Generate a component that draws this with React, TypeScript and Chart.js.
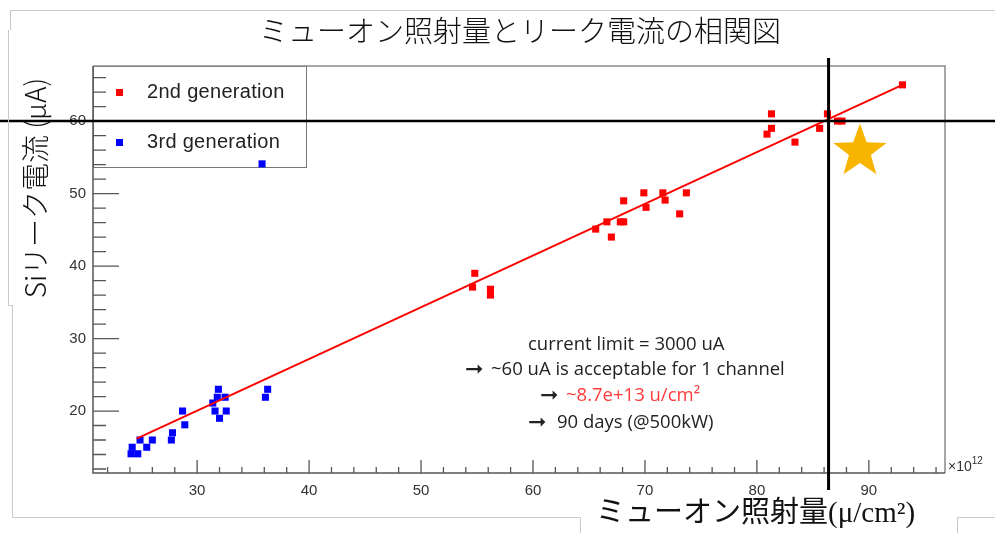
import React, { useEffect, useRef } from "react";
import { Chart, registerables } from "chart.js";

Chart.register(...registerables);

// ---------- data ----------
const X_TICKS = [30, 40, 50, 60, 70, 80, 90];
const Y_TICKS = [20, 30, 40, 50, 60];
const X_MINOR_STEP = 2;
const Y_MINOR_STEP = 2;
const X_RANGE = [20.7, 96.8];
const Y_RANGE = [11.45, 67.6];

const GEN2_X = [54.8, 54.6, 56.2, 56.2, 65.6, 66.6, 67.0, 67.8, 68.1, 68.1, 69.9, 70.1, 71.6, 71.8, 73.1, 73.7, 81.3, 81.3, 80.9, 83.4, 86.3, 85.6, 87.2, 87.6, 93.0];
const GEN2_Y = [39.0, 37.1, 36.8, 36.0, 45.1, 46.1, 44.0, 46.1, 46.1, 49.0, 50.1, 48.1, 50.1, 49.1, 47.2, 50.1, 61.0, 59.0, 58.2, 57.1, 61.0, 59.0, 60.0, 60.0, 65.0];

const GEN3_X = [35.8, 24.2, 24.1, 24.7, 24.9, 25.5, 26.0, 27.7, 27.8, 28.7, 28.9, 31.4, 31.6, 31.8, 31.9, 32.5, 32.6, 32.0, 36.1, 36.3];
const GEN3_Y = [54.1, 15.0, 14.1, 14.1, 16.0, 15.0, 16.0, 16.0, 17.0, 20.0, 18.1, 21.1, 20.0, 21.9, 23.0, 21.9, 20.0, 19.0, 21.9, 23.0];

const FIT_X = [24.6, 93.0];
const FIT_Y = [16.2, 65.0];

const LIMIT_CURRENT = 60;
const LIMIT_FLUENCE = 86.4;
const TARGET_POINT = [89.2, 55.8];

const SERIES_NAMES = ["2nd generation", "3rd generation"];
const TITLE = "ミューオン照射量とリーク電流の相関図";
const Y_TITLE = "Siリーク電流 (μA)";
const X_TITLE = "ミューオン照射量(μ/cm²)";
const NOTE_LINES = [
  "current limit = 3000 uA",
  "~60 uA is acceptable for 1 channel",
  "~8.7e+13 u/cm²",
  "90 days (@500kW)",
];
const ARROW = "➞";

const RED = "#ff0000";
const BLUE = "#0000ff";

function drawStar(ctx: CanvasRenderingContext2D, cx: number, cy: number, R: number, r: number) {
  ctx.beginPath();
  for (let i = 0; i < 10; i++) {
    const ang = -Math.PI / 2 + (i * Math.PI) / 5;
    const rad = i % 2 === 0 ? R : r;
    const px = cx + rad * Math.cos(ang);
    const py = cy + rad * Math.sin(ang);
    if (i === 0) ctx.moveTo(px, py);
    else ctx.lineTo(px, py);
  }
  ctx.closePath();
  ctx.fill();
}

const decorPlugin = {
  id: "decor",
  beforeDatasetsDraw(chart: any) {
    const ctx: CanvasRenderingContext2D = chart.ctx;
    const { left, right, top, bottom } = chart.chartArea;
    const xs = chart.scales.x;
    const ys = chart.scales.y;
    ctx.save();
    // legend box
    ctx.fillStyle = "#ffffff";
    ctx.fillRect(left, top, 213, 101);
    ctx.strokeStyle = "#777";
    ctx.lineWidth = 1;
    ctx.strokeRect(left + 0.5, top + 0.5, 213, 101);
    ctx.fillStyle = RED;
    ctx.fillRect(left + 23, top + 23, 7, 7);
    ctx.fillStyle = BLUE;
    ctx.fillRect(left + 23, top + 73, 7, 7);
    ctx.fillStyle = "#222";
    ctx.font = '20px "Liberation Sans", Arial, sans-serif';
    (ctx as any).letterSpacing = "0.3px";
    ctx.textAlign = "left";
    ctx.textBaseline = "middle";
    ctx.fillText(SERIES_NAMES[0], left + 54, top + 26);
    ctx.fillText(SERIES_NAMES[1], left + 54, top + 76);
    (ctx as any).letterSpacing = "0px";

    // frame
    ctx.strokeStyle = "#8a8a8a";
    ctx.lineWidth = 1.5;
    ctx.beginPath();
    ctx.moveTo(left, top);
    ctx.lineTo(right, top);
    ctx.lineTo(right, bottom);
    ctx.stroke();
    ctx.strokeStyle = "#555";
    ctx.beginPath();
    ctx.moveTo(left, top);
    ctx.lineTo(left, bottom);
    ctx.lineTo(right, bottom);
    ctx.stroke();

    // ticks (inner, ROOT style)
    ctx.lineWidth = 1.3;
    ctx.strokeStyle = "#555";
    ctx.beginPath();
    const x0 = Math.ceil(X_RANGE[0] / X_MINOR_STEP) * X_MINOR_STEP;
    for (let v = x0; v <= X_RANGE[1]; v += X_MINOR_STEP) {
      const px = xs.getPixelForValue(v);
      const major = X_TICKS.includes(v);
      ctx.moveTo(px, bottom);
      ctx.lineTo(px, bottom - (major ? 13 : 6));
    }
    const y0 = Math.ceil(Y_RANGE[0] / Y_MINOR_STEP) * Y_MINOR_STEP;
    for (let v = y0; v <= Y_RANGE[1]; v += Y_MINOR_STEP) {
      const py = ys.getPixelForValue(v);
      const major = Y_TICKS.includes(v);
      ctx.moveTo(left, py);
      ctx.lineTo(left + (major ? 26 : 13), py);
    }
    ctx.stroke();
    ctx.restore();
  },
  afterDatasetsDraw(chart: any) {
    const ctx: CanvasRenderingContext2D = chart.ctx;
    const { left, right, top, bottom } = chart.chartArea;
    const xs = chart.scales.x;
    const ys = chart.scales.y;
    const W = chart.width;
    ctx.save();

    // limit lines
    ctx.strokeStyle = "#000";
    ctx.lineWidth = 2.5;
    const hy = ys.getPixelForValue(LIMIT_CURRENT);
    ctx.beginPath();
    ctx.moveTo(0, hy);
    ctx.lineTo(W, hy);
    ctx.stroke();
    const vx = xs.getPixelForValue(LIMIT_FLUENCE);
    ctx.lineWidth = 3;
    ctx.beginPath();
    ctx.moveTo(vx, top - 8);
    ctx.lineTo(vx, bottom + 17);
    ctx.stroke();

    // star
    ctx.fillStyle = "#f7b500";
    drawStar(ctx, xs.getPixelForValue(TARGET_POINT[0]), ys.getPixelForValue(TARGET_POINT[1]), 28, 11.5);

    // x10^12
    ctx.fillStyle = "#333";
    ctx.textAlign = "left";
    ctx.textBaseline = "alphabetic";
    ctx.font = '14px "Liberation Sans", Arial, sans-serif';
    ctx.fillText("×10", right + 3, bottom - 2);
    const w10 = ctx.measureText("×10").width;
    ctx.font = '10px "Liberation Sans", Arial, sans-serif';
    ctx.fillText("12", right + 3 + w10, bottom - 9);

    // annotation
    const noteFont = '18.5px "Open Sans", "Noto Sans", sans-serif';
    const arrowFont = 'bold 22px "DejaVu Sans", sans-serif';
    ctx.textBaseline = "middle";
    ctx.font = noteFont;
    ctx.fillStyle = "#222";
    ctx.fillText(NOTE_LINES[0], 528, 345);
    ctx.font = arrowFont;
    ctx.fillText(ARROW, 465, 370);
    ctx.font = noteFont;
    ctx.fillText(NOTE_LINES[1], 491, 370);
    ctx.font = arrowFont;
    ctx.fillText(ARROW, 540, 396);
    ctx.font = noteFont;
    ctx.fillStyle = "#ff3b3b";
    ctx.fillText(NOTE_LINES[2], 566, 396);
    ctx.fillStyle = "#222";
    ctx.font = arrowFont;
    ctx.fillText(ARROW, 528, 423);
    ctx.font = noteFont;
    ctx.fillText(NOTE_LINES[3], 557, 423);

    // title
    ctx.fillStyle = "#111";
    ctx.textAlign = "center";
    ctx.font = '300 29px "Noto Sans CJK JP", sans-serif';
    ctx.fillText(TITLE, 520, 31);

    // y title
    ctx.save();
    ctx.translate(35, 188);
    ctx.rotate(-Math.PI / 2);
    ctx.font = '300 28px "Noto Sans CJK JP", sans-serif';
    ctx.fillText(Y_TITLE, 0, 0);
    ctx.restore();

    // x title
    ctx.textAlign = "left";
    ctx.font = '29px "Liberation Serif", "Noto Sans CJK JP", serif';
    ctx.fillText(X_TITLE, 596, 514);

    // slide text-box outlines
    ctx.strokeStyle = "#c8c8c8";
    ctx.lineWidth = 1;
    ctx.beginPath();
    ctx.moveTo(10.5, 30);
    ctx.lineTo(10.5, 10.5);
    ctx.lineTo(W, 10.5);
    ctx.moveTo(8.5, 30);
    ctx.lineTo(8.5, 305.5);
    ctx.lineTo(12.5, 305.5);
    ctx.lineTo(12.5, 517.5);
    ctx.lineTo(580.5, 517.5);
    ctx.lineTo(580.5, 533);
    ctx.moveTo(957.5, 533);
    ctx.lineTo(957.5, 517.5);
    ctx.lineTo(W, 517.5);
    ctx.stroke();

    ctx.restore();
  },
};

export default function App() {
  const ref = useRef<HTMLCanvasElement | null>(null);
  useEffect(() => {
    if (!ref.current) return;
    const toPts = (xs: number[], ys: number[]) => xs.map((x, i) => ({ x, y: ys[i] }));
    const chart = new Chart(ref.current, {
      type: "scatter",
      data: {
        datasets: [
          {
            type: "line",
            label: "fit",
            data: toPts(FIT_X, FIT_Y),
            borderColor: RED,
            borderWidth: 2,
            pointRadius: 0,
            fill: false,
          } as any,
          {
            label: SERIES_NAMES[0],
            data: toPts(GEN2_X, GEN2_Y),
            backgroundColor: RED,
            borderWidth: 0,
            pointStyle: "rect",
            pointRadius: 5,
          },
          {
            label: SERIES_NAMES[1],
            data: toPts(GEN3_X, GEN3_Y),
            backgroundColor: BLUE,
            borderWidth: 0,
            pointStyle: "rect",
            pointRadius: 5,
          },
        ],
      },
      options: {
        animation: false,
        responsive: false,
        devicePixelRatio: 1,
        layout: { padding: { top: 66, right: 50, left: 0, bottom: 0 } },
        plugins: { legend: { display: false }, tooltip: { enabled: false }, title: { display: false } },
        scales: {
          x: {
            type: "linear",
            min: X_RANGE[0],
            max: X_RANGE[1],
            grid: { display: false, drawTicks: false },
            border: { display: false },
            afterFit: (s: any) => {
              s.height = 60;
            },
            afterBuildTicks: (s: any) => {
              s.ticks = X_TICKS.map((v) => ({ value: v }));
            },
            ticks: {
              padding: 9,
              color: "#333",
              font: { family: '"Liberation Sans", Arial, sans-serif', size: 15 },
              maxRotation: 0,
              autoSkip: false,
            },
          },
          y: {
            type: "linear",
            min: Y_RANGE[0],
            max: Y_RANGE[1],
            grid: { display: false, drawTicks: false },
            border: { display: false },
            afterFit: (s: any) => {
              s.width = 93;
            },
            afterBuildTicks: (s: any) => {
              s.ticks = Y_TICKS.map((v) => ({ value: v }));
            },
            ticks: {
              padding: 7,
              color: "#333",
              font: { family: '"Liberation Sans", Arial, sans-serif', size: 15 },
              autoSkip: false,
            },
          },
        },
      },
      plugins: [decorPlugin],
    });
    return () => chart.destroy();
  }, []);
  return (
    <div style={{ position: "fixed", left: 0, top: 0, width: 995, height: 533, background: "#fff" }}>
      <canvas ref={ref} width={995} height={533} style={{ display: "block" }} />
    </div>
  );
}
